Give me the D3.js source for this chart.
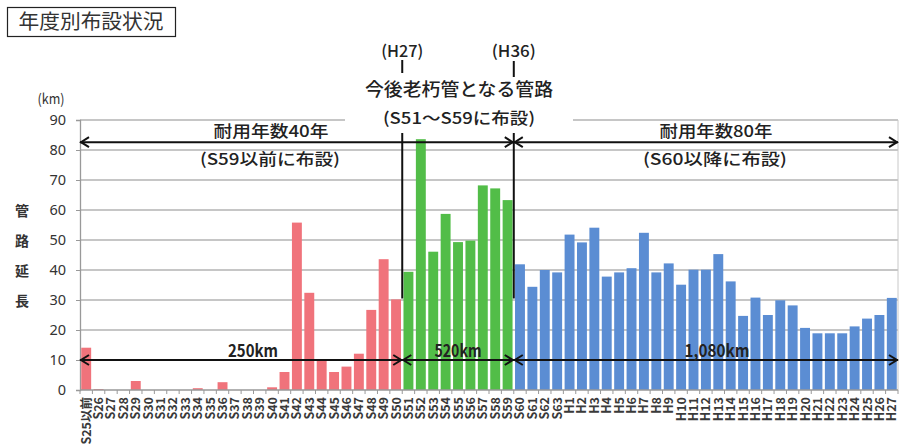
<!DOCTYPE html>
<html><head><meta charset="utf-8">
<script src="https://cdn.jsdelivr.net/npm/d3@7"></script>
<style>
body{margin:0;background:#fff;}
svg{display:block;font-family:"Noto Sans CJK JP","Noto Sans",sans-serif;}
</style>
</head><body>
<svg id="c" width="901" height="448"></svg>
<script>
// ---- data ----
const categoriesOld = ["S25以前","S26","S27","S28","S29","S30","S31","S32","S33","S34","S35","S36","S37","S38","S39","S40","S41","S42","S43","S44","S45","S46","S47","S48","S49","S50"];
const valuesOld     = [14.1,0.3,0,0,3.0,0,0,0,0,0.6,0,2.6,0,0,0,0.9,6.0,55.8,32.4,10.0,6.0,7.8,12.1,26.7,43.6,30.2];
const categoriesMid = ["S51","S52","S53","S54","S55","S56","S57","S58","S59"];
const valuesMid     = [39.4,83.6,46.1,58.7,49.3,49.8,68.2,67.2,63.3];
const categoriesNew = ["S60","S61","S62","S63","H1","H2","H3","H4","H5","H6","H7","H8","H9","H10","H11","H12","H13","H14","H15","H16","H17","H18","H19","H20","H21","H22","H23","H24","H25","H26","H27"];
const valuesNew     = [41.9,34.4,40.0,39.2,51.8,49.2,54.1,37.8,39.2,40.6,52.4,39.2,42.2,35.1,40.1,40.1,45.3,36.2,24.7,30.8,25.0,29.9,28.2,20.7,18.9,18.9,18.9,21.2,23.8,25.0,30.7];
const yTicks = [0,10,20,30,40,50,60,70,80,90];
const groupTotals = ["250km","520km","1,080km"];
const colors = {old:"#f0737b", mid:"#52bd48", nw:"#5b8dd3"};

// ---- setup ----
const svg = d3.select("#c");
const data = [
  ...categoriesOld.map((c,i)=>({c, v:valuesOld[i], g:"old"})),
  ...categoriesMid.map((c,i)=>({c, v:valuesMid[i], g:"mid"})),
  ...categoriesNew.map((c,i)=>({c, v:valuesNew[i], g:"nw"}))
];
const x = d3.scaleBand().domain(data.map(d=>d.c)).range([80,898]).paddingInner(0.2).paddingOuter(0.1);
const y = d3.scaleLinear().domain([0,90]).range([390,120]);
const step = x.step();
const boundary = c => x(c) - step*x.paddingInner()/2;

function txt(px, py, s, size, o={}){
  const t = svg.append("text").attr("x",px).attr("y",py).text(s)
    .attr("font-size",size).attr("fill",o.fill||"#222")
    .attr("font-weight",o.weight||500)
    .attr("text-anchor",o.anchor||"middle");
  if(o.w){ t.attr("textLength",o.w).attr("lengthAdjust","spacingAndGlyphs"); }
  return t;
}

// title box
svg.append("rect").attr("x",7.5).attr("y",7.5).attr("width",168).attr("height",29)
  .attr("fill","#fff").attr("stroke","#222").attr("stroke-width",1.2);
txt(91,29,"年度別布設状況",20,{w:145,fill:"#333",weight:400});

// gridlines
svg.append("g").selectAll("line").data(yTicks.filter(d=>d>0)).join("line")
  .attr("x1",80).attr("x2",898).attr("y1",d=>y(d)).attr("y2",d=>y(d))
  .attr("stroke","#b3b3b3").attr("stroke-width",1.3);
svg.append("line").attr("x1",898).attr("x2",898).attr("y1",y(90)).attr("y2",y(0))
  .attr("stroke","#c8c8c8").attr("stroke-width",1);

// y axis
const yAxis = d3.axisLeft(y).tickValues(yTicks).tickSize(4).tickPadding(10);
const ya = svg.append("g").attr("transform","translate(80,0)").call(yAxis);
ya.select(".domain").attr("stroke","#999").attr("stroke-width",1.3);
ya.selectAll(".tick line").attr("stroke","#999");
ya.selectAll(".tick text").attr("font-size",14.5).attr("fill","#333").attr("font-family","Noto Sans,sans-serif");
txt(51,104,"(km)",14,{w:27,fill:"#333",weight:400});
["管","路","延","長"].forEach((ch,i)=>txt(22,216+i*30,ch,14,{weight:700,fill:"#333"}));

// bars
svg.append("g").selectAll("rect").data(data).join("rect")
  .attr("x",d=>x(d.c)).attr("width",x.bandwidth())
  .attr("y",d=>y(d.v)).attr("height",d=>y(0)-y(d.v))
  .attr("fill",d=>colors[d.g]);

// x axis
const xa = svg.append("g").attr("transform","translate(0,390)");
xa.append("line").attr("x1",80).attr("x2",898).attr("stroke","#999").attr("stroke-width",1.3);
xa.selectAll("line.tk").data(data.map(d=>d.c).concat(["__end"])).join("line").attr("class","tk")
  .attr("x1",(d,i)=>80+i*(818/data.length)).attr("x2",(d,i)=>80+i*(818/data.length))
  .attr("y1",0).attr("y2",4).attr("stroke","#999");
xa.selectAll("text").data(data).join("text")
  .attr("transform",d=>`translate(${x(d.c)+x.bandwidth()/2+4.5},7) rotate(-90)`)
  .attr("text-anchor","end").attr("font-size",12.5).attr("font-weight",700).attr("fill","#3a3a3a")
  .text(d=>d.c);

// annotations
const xL = boundary("S51"), xR = boundary("S60"), xStart = 80, xEnd = 898;
function arrow(x1,x2,yy){
  svg.append("line").attr("x1",x1).attr("x2",x2).attr("y1",yy).attr("y2",yy).attr("stroke","#111").attr("stroke-width",2);
  svg.append("path").attr("d",`M${x1+9},${yy-5}L${x1+1},${yy}L${x1+9},${yy+5}`).attr("fill","none").attr("stroke","#111").attr("stroke-width",2);
  svg.append("path").attr("d",`M${x2-9},${yy-5}L${x2-1},${yy}L${x2-9},${yy+5}`).attr("fill","none").attr("stroke","#111").attr("stroke-width",2);
}
svg.append("rect").attr("x",345).attr("y",108).attr("width",228).attr("height",20).attr("fill","#fff");

arrow(xStart, xR, y(82.6));
arrow(xR, xEnd, y(82.6));
arrow(xStart, xL, y(10));
arrow(xL, xR, y(10));
arrow(xR, xEnd, y(10));

[xL, xR].forEach(xx=>{
  svg.append("line").attr("x1",xx).attr("x2",xx).attr("y1",133).attr("y2",y(30.5)).attr("stroke","#111").attr("stroke-width",2);
});
svg.append("line").attr("x1",xL).attr("x2",xL).attr("y1",60).attr("y2",73).attr("stroke","#111").attr("stroke-width",2);
svg.append("line").attr("x1",xR).attr("x2",xR).attr("y1",61).attr("y2",77).attr("stroke","#111").attr("stroke-width",2);

txt(xL,57,"(H27)",16,{w:42});
txt(xR,57,"(H36)",16,{w:44});
txt((xL+xR)/2+1,96,"今後老朽管となる管路",18,{w:188});
txt((xL+xR)/2+1,124,"(S51～S59に布設)",16,{w:152});
txt(271,137,"耐用年数40年",16,{w:115});
txt(270,165,"(S59以前に布設)",16,{w:140});
txt(716,137,"耐用年数80年",16,{w:113});
txt(715,165,"(S60以降に布設)",16,{w:144});

txt(253,357,groupTotals[0],17,{w:50,weight:700});
txt(458,357,groupTotals[1],17,{w:47,weight:700});
txt(717,357,groupTotals[2],17,{w:65,weight:700});
</script>
</body></html>
